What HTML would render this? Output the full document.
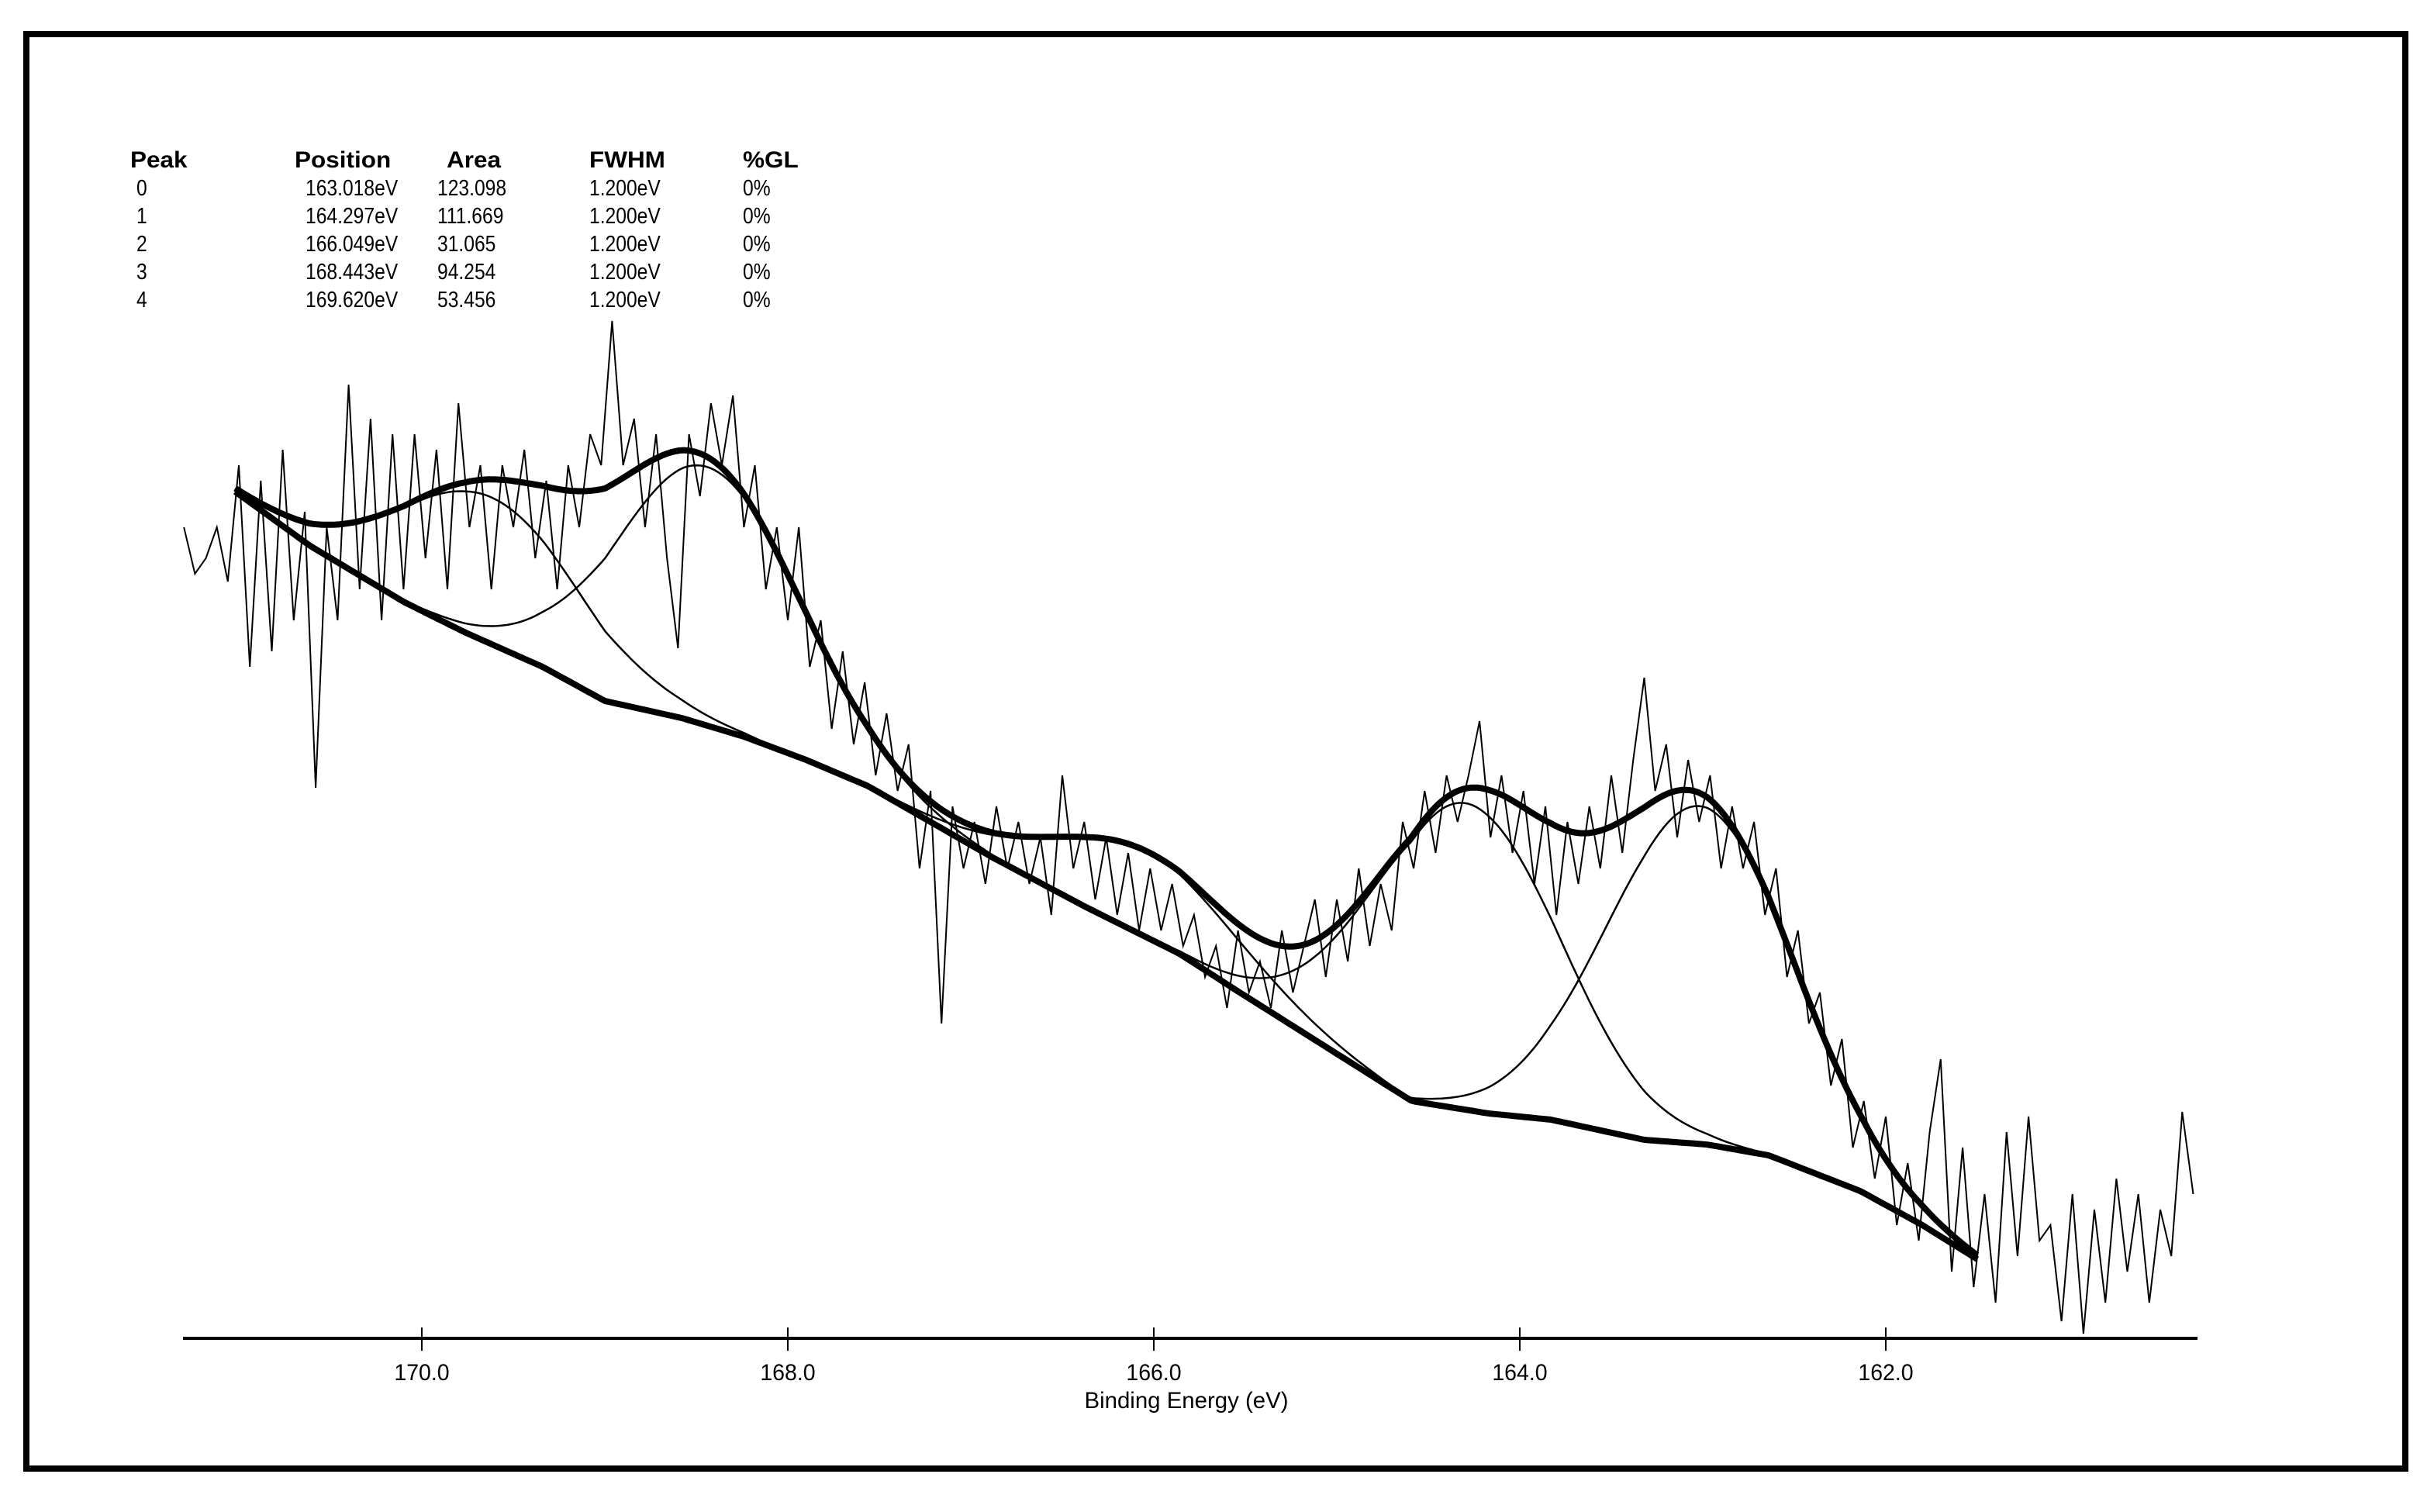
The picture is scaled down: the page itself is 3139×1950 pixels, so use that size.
<!DOCTYPE html>
<html><head><meta charset="utf-8"><style>
html,body{margin:0;padding:0;background:#fff;}
svg{display:block;}
text{font-family:"Liberation Sans",sans-serif;fill:#000;}
</style></head><body>
<svg id="chart" width="3139" height="1950" viewBox="0 0 3139 1950" xmlns="http://www.w3.org/2000/svg">
<rect x="34" y="44" width="3068" height="1850" fill="#fff" stroke="#000" stroke-width="8"/>
<g id="table"></g>
<g id="plot"></g>
<g id="axis"></g>
</svg>
<script>
// ---- data ----
const peakIds = ['0','1','2','3','4'];
const peakPositions = [163.018, 164.297, 166.049, 168.443, 169.620];
const peakAreas = [123.098, 111.669, 31.065, 94.254, 53.456];
const peakFwhm = [1.2, 1.2, 1.2, 1.2, 1.2];
const peakGL = ['0%','0%','0%','0%','0%'];
const heightPerArea = 1.77;
const bgEnergies = [171.02,170.61,170.10,169.76,169.34,169.00,168.58,168.24,167.90,167.56,167.22,166.88,166.37,165.86,165.53,165.02,164.59,164.17,163.83,163.32,162.98,162.64,162.14,161.80,161.50];
const bgCounts = [583,548,512,492,470,448,437,425,410,393,370,347,315,285,260,222,190,182,178,165,162,155,132,110,88];
const rawStart = 171.30;
const rawStep = 0.06;
const rawCounts = [560,530,540,560,525,600,470,590,480,610,500,570,392,560,500,652,520,630,500,620,520,620,540,610,520,640,560,600,520,600,560,610,540,590,520,600,560,620,600,693,600,630,560,620,540,482,620,580,640,600,645,560,600,520,560,500,560,470,500,430,480,420,460,400,440,390,420,340,390,240,380,340,370,330,380,340,370,330,360,310,400,340,370,320,360,310,350,300,340,300,330,290,310,270,290,250,300,260,280,250,300,260,290,320,270,320,280,340,290,330,300,370,340,390,350,400,370,400,435,360,400,350,390,330,380,310,370,330,380,340,400,350,410,463,390,420,360,410,370,400,340,380,340,370,310,340,270,300,240,260,200,230,160,190,140,180,110,150,100,170,217,80,160,70,130,60,170,90,180,100,110,48,130,40,120,60,140,80,130,60,120,90,183,130];
const tickValues = [170,168,166,164,162];
const tickLabels = ['170.0','168.0','166.0','164.0','162.0'];

// ---- axis functions ----
function X(eV){ return 544 + (170 - eV) * 236; }
function Y(c){ return 1800 - 2 * c; }
const NS = 'http://www.w3.org/2000/svg';
function mk(tag, attrs, parent){ const e=document.createElementNS(NS,tag); for(const k in attrs) e.setAttribute(k,attrs[k]); parent.appendChild(e); return e; }
function bg(eV){
  if(eV>=bgEnergies[0]) return bgCounts[0];
  for(let i=0;i<bgEnergies.length-1;i++){
    const a=bgEnergies[i], b=bgEnergies[i+1];
    if(eV<=a && eV>=b){ const t=(a-eV)/(a-b); return bgCounts[i]+t*(bgCounts[i+1]-bgCounts[i]); }
  }
  return bgCounts[bgCounts.length-1];
}
function peak(k,eV){ const s=peakFwhm[k]/2.3548; const h=peakAreas[k]*heightPerArea; return h*Math.exp(-Math.pow(eV-peakPositions[k],2)/(2*s*s)); }

const plot=document.getElementById('plot');
const fitHi=bgEnergies[0], fitLo=bgEnergies[bgEnergies.length-1];
function curve(fn){ let d=''; const n=400; for(let i=0;i<=n;i++){ const e=fitHi-(fitHi-fitLo)*i/n; d+=(i?'L':'M')+X(e).toFixed(1)+' '+Y(fn(e)).toFixed(1); } return d; }

// raw data
let rd='';
rawCounts.forEach((c,i)=>{ const e=rawStart-rawStep*i; rd+=(i?'L':'M')+X(e).toFixed(1)+' '+Y(c).toFixed(1); });
const raw=mk('path',{d:rd,fill:'none',stroke:'#000','stroke-width':2},plot);



// components
peakPositions.forEach((p,k)=>{
  const c=mk('path',{d:curve(e=>bg(e)+peak(k,e)),fill:'none',stroke:'#000','stroke-width':2.5},plot);
  
  
});
// background
const b=mk('path',{d:curve(bg),fill:'none',stroke:'#000','stroke-width':8,'stroke-linejoin':'round'},plot);


// envelope
const env=mk('path',{d:curve(e=>{let s=bg(e);for(let k=0;k<peakPositions.length;k++)s+=peak(k,e);return s;}),fill:'none',stroke:'#000','stroke-width':8,'stroke-linejoin':'round'},plot);



// axis
const ax=document.getElementById('axis');
const al=mk('line',{x1:236,y1:1726,x2:2834,y2:1726,stroke:'#000','stroke-width':4},ax);


tickValues.forEach((v,i)=>{
  const t=mk('line',{x1:X(v),y1:1712,x2:X(v),y2:1742,stroke:'#000','stroke-width':2},ax);
  
  
  const l=mk('text',{x:X(v),y:1780,'text-anchor':'middle','font-size':30,transform:'translate('+X(v)+' 0) scale(0.95 1) translate('+(-X(v))+' 0)'},ax);
  l.textContent=tickLabels[i];
  
  
});
const xt=mk('text',{x:1530,y:1816,'text-anchor':'middle','font-size':30,transform:'translate(1530 0) scale(0.98 1) translate(-1530 0)'},ax);
xt.textContent='Binding Energy (eV)';



// table
const tb=document.getElementById('table');
const hx=[168,380,576,760,958];
const heads=['Peak','Position','Area','FWHM','%GL'];
heads.forEach((h,i)=>{
  const x=hx[i];
  const t=mk('text',{x:x,y:216,'font-size':30,'font-weight':'bold',transform:'translate('+x+' 0) scale(1.05 1) translate('+(-x)+' 0)'},tb);
  t.textContent=h;
  
  
});
const vx=[176,394,564,760,958];
peakIds.forEach((id,r)=>{
  const vals=[id,peakPositions[r].toFixed(3)+'eV',peakAreas[r].toFixed(3),peakFwhm[r].toFixed(3)+'eV',peakGL[r]];
  vals.forEach((v,i)=>{
    const y=252+36*r;
    const t=mk('text',{x:vx[i],y:y,'font-size':29,transform:'translate('+vx[i]+' 0) scale(0.85 1) translate('+(-vx[i])+' 0)'},tb);
    t.textContent=v;
    
    
  });
});
</script>
</body></html>
